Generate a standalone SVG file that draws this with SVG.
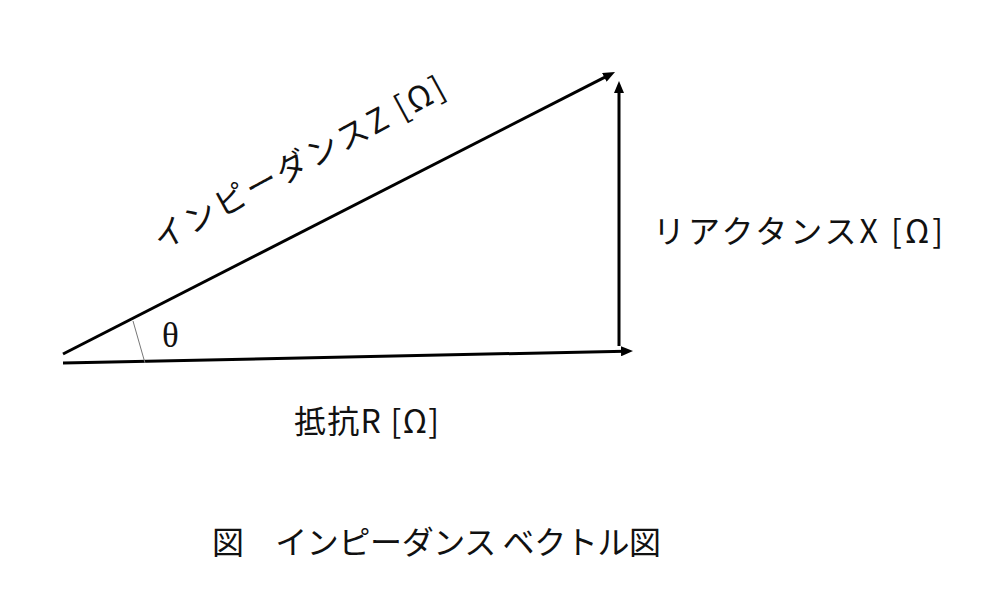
<svg xmlns="http://www.w3.org/2000/svg" width="987" height="599" viewBox="0 0 987 599">
  <style>
    .lbl { font-family: "Noto Sans CJK JP", "Noto Sans", sans-serif; font-size: 32px; fill: #111; }
    .vec { stroke: #000; stroke-width: 3; fill: none; }
  </style>
  <defs>
    <marker id="arr" viewBox="0 0 12 10" refX="4" refY="5" markerWidth="12" markerHeight="10" orient="auto" markerUnits="userSpaceOnUse">
      <path d="M0,0 L12,5 L0,10 z" fill="#000"/>
    </marker>
  </defs>
  <rect width="987" height="599" fill="#fff"/>
  <g id="connectors">
    <line id="impedance" class="vec" x1="63" y1="354" x2="607.9" y2="75.6" marker-end="url(#arr)"/>
    <line id="reactance" class="vec" x1="619" y1="346" x2="619" y2="89" marker-end="url(#arr)"/>
    <line id="resistance" class="vec" x1="63" y1="363" x2="625" y2="351.2" marker-end="url(#arr)"/>
    <line id="angle-arc" x1="133" y1="321" x2="145" y2="363" stroke="#777" stroke-width="1"/>
  </g>
  <g id="label-z">
    <text class="lbl" transform="translate(161,251) rotate(-28.5)" textLength="326" lengthAdjust="spacing">インピーダンスZ [Ω]</text>
  </g>
  <g id="label-x">
    <text class="lbl" x="653" y="243" textLength="290" lengthAdjust="spacing">リアクタンスX [Ω]</text>
  </g>
  <g id="label-r">
    <text class="lbl" x="294" y="433" textLength="145" lengthAdjust="spacing">抵抗R [Ω]</text>
  </g>
  <g id="label-theta">
    <text x="162" y="347" font-family="Liberation Serif, serif" font-size="35" fill="#111">θ</text>
  </g>
  <g id="caption">
    <text class="lbl" x="212" y="554" textLength="449" lengthAdjust="spacing">図　インピーダンス ベクトル図</text>
  </g>
</svg>
